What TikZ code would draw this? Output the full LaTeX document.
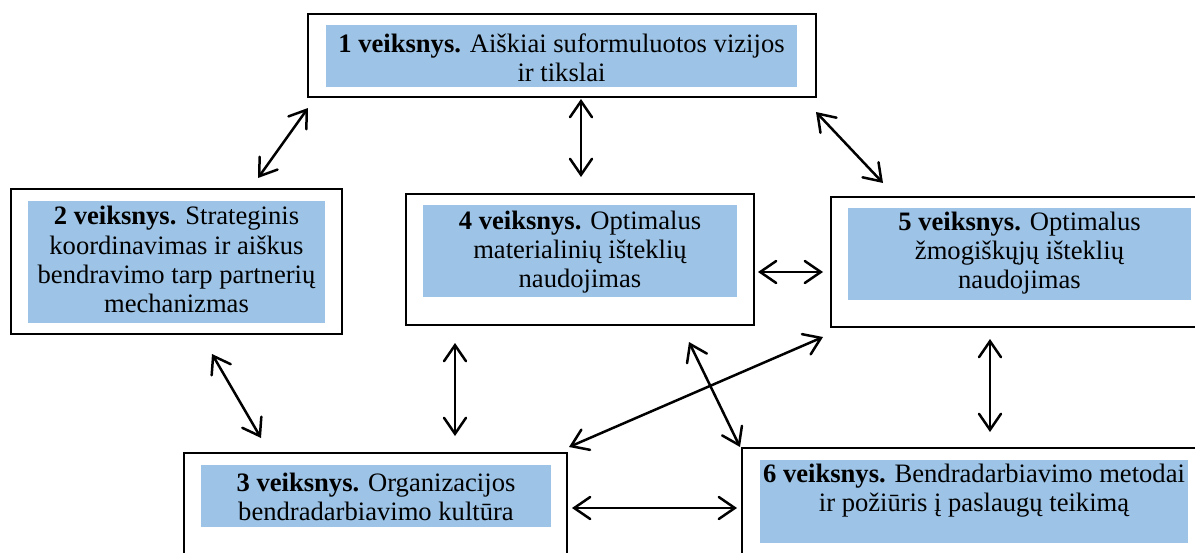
\documentclass[tikz,border=0pt]{standalone}
\usepackage{fontspec}
\setmainfont{Liberation Serif}
\usetikzlibrary{arrows.meta}
\definecolor{stepblue}{RGB}{157,195,230}
\tikzset{
  frame/.style={draw=black, line width=1.4pt, fill=white, inner sep=0pt, rectangle},
  panel/.style={fill=stepblue, inner sep=0pt, rectangle},
  label/.style={align=center, inner sep=0pt, font=\fontsize{13.3pt}{14.6pt}\selectfont},
  link/.style={line width=1.25pt, line cap=round, {Straight Barb[length=8pt,width=11pt,line cap=round]}-{Straight Barb[length=8pt,width=11pt,line cap=round]}}
}
\begin{document}
\begin{tikzpicture}[x=0.5pt,y=-0.5pt]
\useasboundingbox (0,0) rectangle (1195,552);
\clip (0,0) rectangle (1195,552);

% outer frames
\node[frame, minimum width=254pt, minimum height=41.5pt] (f1) at (562,55.5) {};
\node[frame, minimum width=165.5pt, minimum height=72.5pt] (f2) at (176.5,261.5) {};
\node[frame, minimum width=174pt, minimum height=65.5pt] (f4) at (580,259.5) {};
\node[frame, minimum width=187pt, minimum height=65pt] (f5) at (1018,262) {};
\node[frame, minimum width=191.5pt, minimum height=58.5pt] (f3) at (375.5,511.5) {};
\node[frame, minimum width=234pt, minimum height=61pt] (f6) at (976,509) {};

% shaded panels
\node[panel, minimum width=235.5pt, minimum height=31pt] (p1) at (561.5,56) {};
\node[panel, minimum width=148.5pt, minimum height=61pt] (p2) at (176.5,262) {};
\node[panel, minimum width=157pt, minimum height=46pt] (p4) at (580,251) {};
\node[panel, minimum width=171.5pt, minimum height=46pt] (p5) at (1019.5,254) {};
\node[panel, minimum width=175pt, minimum height=31pt] (p3) at (376,496) {};
\node[panel, minimum width=214pt, minimum height=41.5pt] (p6) at (974,501.5) {};

% step texts
\node[label] (t1) at (561.5,57.5) {\textbf{1 veiksnys.} Aiškiai suformuluotos vizijos\\ir tikslai};
\node[label] (t2) at (176.5,259.5) {\textbf{2 veiksnys.} Strateginis\\koordinavimas ir aiškus\\bendravimo tarp partnerių\\mechanizmas};
\node[label] (t4) at (580,252) {\textbf{4 veiksnys.} Optimalus\\materialinių išteklių\\naudojimas};
\node[label] (t5) at (1019.5,253) {\textbf{5 veiksnys.} Optimalus\\žmogiškųjų išteklių\\naudojimas};
\node[label] (t3) at (376,496.5) {\textbf{3 veiksnys.} Organizacijos\\bendradarbiavimo kultūra};
\node[label] (t6) at (974,491) {\textbf{6 veiksnys.} Bendradarbiavimo metodai\\ir požiūris į paslaugų teikimą};

% arrow end points
\coordinate (e12a) at (308,108);  \coordinate (e12b) at (258,178);
\coordinate (e14a) at (581,99);   \coordinate (e14b) at (581,177);
\coordinate (e15a) at (816,112);  \coordinate (e15b) at (883,183);
\coordinate (e45a) at (758,272);  \coordinate (e45b) at (823,272);
\coordinate (e23a) at (212,354);  \coordinate (e23b) at (261,438);
\coordinate (e43a) at (455,343);  \coordinate (e43b) at (455,436);
\coordinate (e53a) at (823,337);  \coordinate (e53b) at (569,447);
\coordinate (e46a) at (689,342);  \coordinate (e46b) at (740,447);
\coordinate (e56a) at (990,339);  \coordinate (e56b) at (990,432);
\coordinate (e36a) at (572,508);  \coordinate (e36b) at (737,508);

% two-way connectors
\draw[link] (e12a) -- (e12b);
\draw[link] (e14a) -- (e14b);
\draw[link] (e15a) -- (e15b);
\draw[link] (e45a) -- (e45b);
\draw[link] (e23a) -- (e23b);
\draw[link] (e43a) -- (e43b);
\draw[link] (e53a) -- (e53b);
\draw[link] (e46a) -- (e46b);
\draw[link] (e56a) -- (e56b);
\draw[link] (e36a) -- (e36b);
\end{tikzpicture}
\end{document}
